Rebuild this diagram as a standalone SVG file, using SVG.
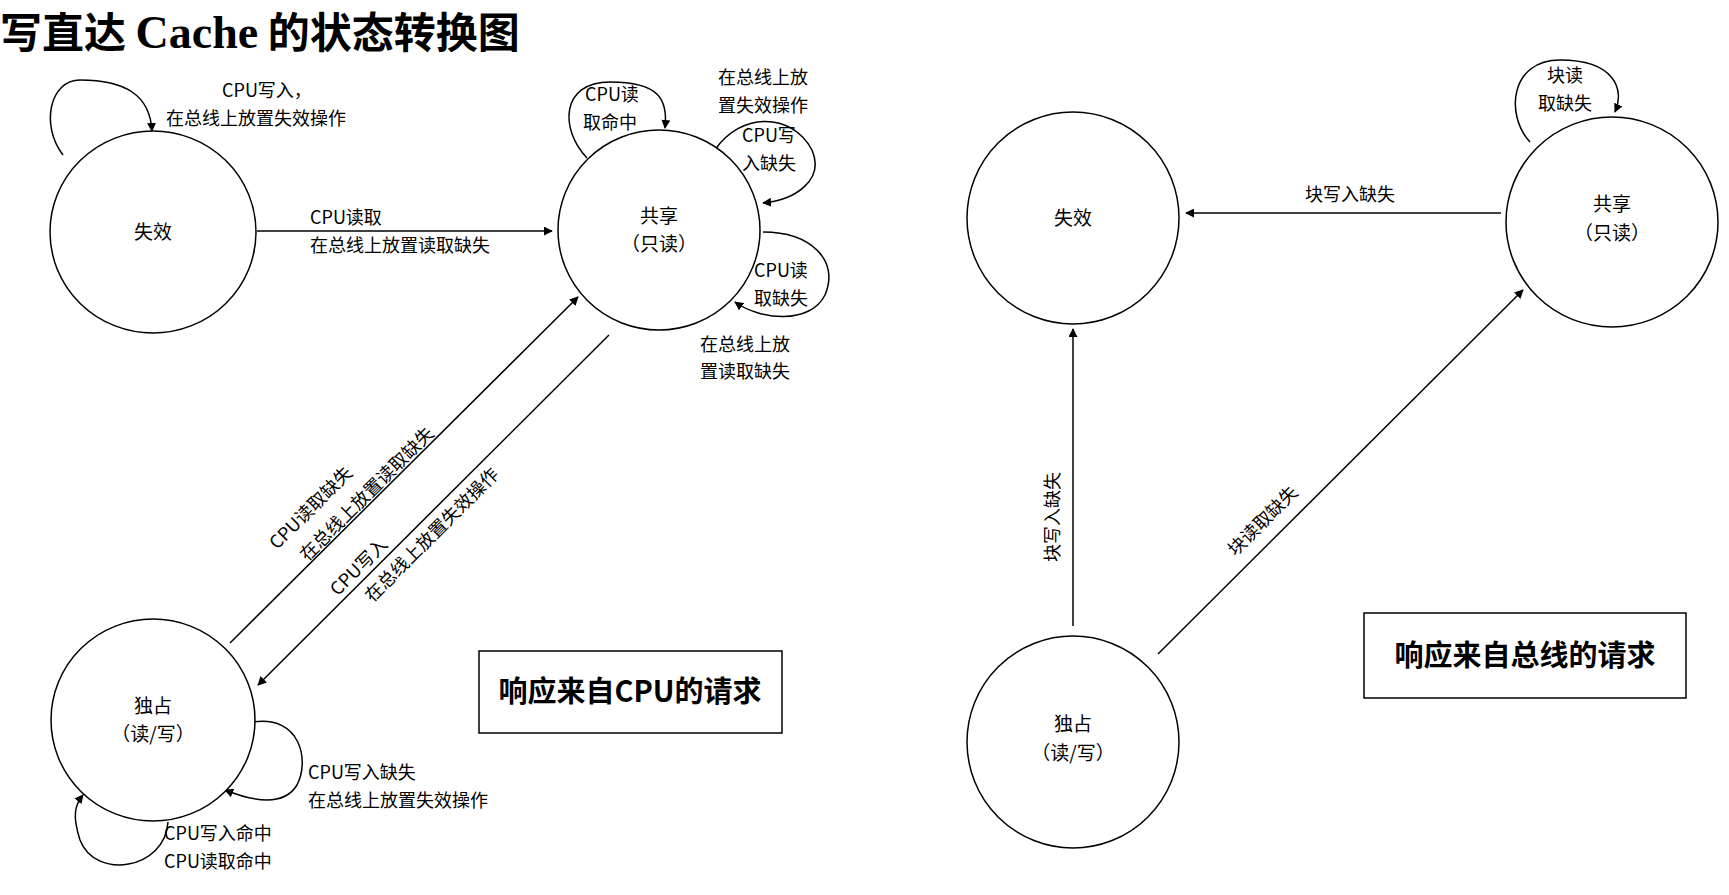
<svg xmlns="http://www.w3.org/2000/svg" width="1729" height="895" viewBox="0 0 1729 895">
<defs>
<marker id="ah" viewBox="0 0 10 10" refX="9" refY="5" markerWidth="9" markerHeight="9" markerUnits="userSpaceOnUse" orient="auto"><path d="M0,0 L10,5 L0,10 z" fill="#000"/></marker>
<style>
.n{fill:#fff;stroke:#000;stroke-width:1.5}
.c{fill:none;stroke:#000;stroke-width:1.5;marker-end:url(#ah)}
text{font-family:"Noto Sans CJK SC","Liberation Sans",sans-serif;font-size:18px;fill:#000}
.m{text-anchor:middle}
.nl{font-size:19px;text-anchor:middle}
.bx{font-size:29px;font-weight:bold;text-anchor:middle}
</style>
</defs>
<rect width="1729" height="895" fill="#fff"/>
<text x="0" y="48" style="font-family:'Noto Sans CJK SC',serif;font-size:42px;font-weight:bold">写直达 <tspan style="font-family:'Liberation Serif',serif;font-size:46px">Cache</tspan> 的状态转换图</text>

<g id="connectors">
<path class="c" d="M257,231 L552,231"/>
<path class="c" d="M63,155 C40,125 50,80 80,80 C125,80 150,95 152,131"/>
<path class="c" d="M587,158 C560,130 560,82 610,82 C660,82 668,100 665,128"/>
<path class="c" d="M715,150 C740,112 792,112 812,150 C825,180 795,200 763,203"/>
<path class="c" d="M763,232 C810,232 840,260 825,295 C810,325 760,320 735,302"/>
<path class="c" d="M230,643 L578,297"/>
<path class="c" d="M609,335 L258,685"/>
<path class="c" d="M253,722 C300,715 310,760 297,785 C283,808 250,800 225,790"/>
<path class="c" d="M168,822 C165,870 95,880 80,840 C72,815 75,805 83,795"/>
<path class="c" d="M1501,213 L1186,213"/>
<path class="c" d="M1073,626 L1073,329"/>
<path class="c" d="M1158,654 L1523,290"/>
<path class="c" d="M1530,142 C1505,115 1510,60 1560,60 C1615,60 1625,90 1615,112"/>
</g>

<g id="labels">
<text x="222" y="97">CPU写入，</text>
<text x="166" y="125">在总线上放置失效操作</text>
<text x="310" y="224">CPU读取</text>
<text x="310" y="252">在总线上放置读取缺失</text>
<text x="585" y="101">CPU读</text>
<text x="583" y="129">取命中</text>
<text x="718" y="84">在总线上放</text>
<text x="718" y="112">置失效操作</text>
<text x="742" y="142">CPU写</text>
<text x="742" y="170">入缺失</text>
<text x="754" y="277">CPU读</text>
<text x="754" y="305">取缺失</text>
<text x="700" y="351">在总线上放</text>
<text x="700" y="378">置读取缺失</text>
<text class="m" transform="translate(311,508) rotate(-45)" y="6">CPU读取缺失</text>
<text class="m" transform="translate(367,494) rotate(-45)" y="6">在总线上放置读取缺失</text>
<text class="m" transform="translate(359,567) rotate(-45)" y="6">CPU写入</text>
<text class="m" transform="translate(432,535) rotate(-45)" y="6">在总线上放置失效操作</text>
<text x="308" y="779">CPU写入缺失</text>
<text x="308" y="807">在总线上放置失效操作</text>
<text x="164" y="840">CPU写入命中</text>
<text x="164" y="868">CPU读取命中</text>
<text class="m" x="1350" y="201">块写入缺失</text>
<text class="m" transform="translate(1053,517) rotate(-90)" y="6">块写入缺失</text>
<text class="m" transform="translate(1263,521) rotate(-45)" y="6">块读取缺失</text>
<text class="m" x="1565" y="82">块读</text>
<text class="m" x="1565" y="110">取缺失</text>
</g>

<g id="inv1"><ellipse class="n" cx="153" cy="232" rx="103" ry="101"/><text class="nl" x="153" y="239">失效</text></g>
<g id="sh1"><ellipse class="n" cx="659" cy="230" rx="101" ry="100"/><text class="nl" x="659" y="223">共享</text><text class="nl" x="659" y="251">（只读）</text></g>
<g id="ex1"><ellipse class="n" cx="153" cy="720" rx="102" ry="101"/><text class="nl" x="153" y="713">独占</text><text class="nl" x="153" y="741">（读/写）</text></g>
<g id="box1"><rect x="479" y="651" width="303" height="82" fill="none" stroke="#000" stroke-width="1.5"/><text class="bx" x="630" y="702">响应来自CPU的请求</text></g>

<g id="inv2"><ellipse class="n" cx="1073" cy="218" rx="106" ry="106"/><text class="nl" x="1073" y="225">失效</text></g>
<g id="sh2"><ellipse class="n" cx="1612" cy="222" rx="106" ry="105"/><text class="nl" x="1612" y="211">共享</text><text class="nl" x="1612" y="240">（只读）</text></g>
<g id="ex2"><ellipse class="n" cx="1073" cy="742" rx="106" ry="106"/><text class="nl" x="1073" y="731">独占</text><text class="nl" x="1073" y="760">（读/写）</text></g>
<g id="box2"><rect x="1364" y="613" width="322" height="85" fill="none" stroke="#000" stroke-width="1.5"/><text class="bx" x="1525" y="666">响应来自总线的请求</text></g>
</svg>
